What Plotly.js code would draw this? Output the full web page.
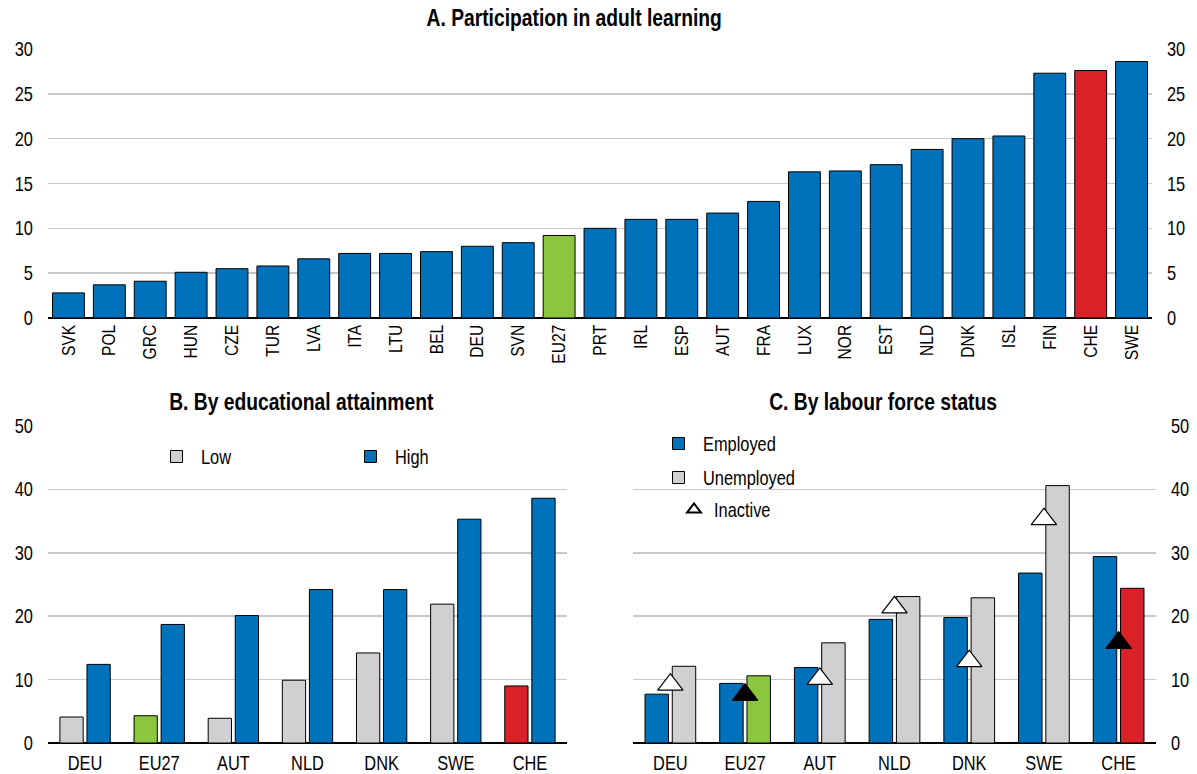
<!DOCTYPE html>
<html>
<head>
<meta charset="utf-8">
<script src="https://cdn.plot.ly/plotly-3.0.1.min.js"></script>
<style>body{margin:0;padding:0;background:#fff}#chart{width:1197px;height:774px}</style>
</head>
<body>
<div id="chart"></div>
<script>
// ---------- DATA ----------
const countriesA = ["SVK","POL","GRC","HUN","CZE","TUR","LVA","ITA","LTU","BEL","DEU","SVN","EU27","PRT","IRL","ESP","AUT","FRA","LUX","NOR","EST","NLD","DNK","ISL","FIN","CHE","SWE"];
const participation = [2.8,3.7,4.1,5.1,5.5,5.8,6.6,7.2,7.2,7.4,8.0,8.4,9.2,10.0,11.0,11.0,11.7,13.0,16.3,16.4,17.1,18.8,20.0,20.3,27.3,27.6,28.6];

const countriesBC = ["DEU","EU27","AUT","NLD","DNK","SWE","CHE"];
const eduLow  = [4.1,4.3,3.9,9.9,14.2,21.9,9.0];
const eduHigh = [12.4,18.7,20.1,24.2,24.2,35.3,38.6];

const employed   = [7.7,9.4,11.9,19.5,19.8,26.8,29.4];
const unemployed = [12.1,10.6,15.8,23.1,22.9,40.6,24.4];
const inactive   = [9.2,7.6,10.1,21.4,12.9,35.3,15.8];

const titleA = "A. Participation in adult learning";
const titleB = "B. By educational attainment";
const titleC = "C. By labour force status";

// ---------- STYLE ----------
const BLUE = "#0072BC", GRAY = "#D0CFD1", GREEN = "#8CC63F", RED = "#DA2128";
const FONT = "'Liberation Sans', Arial, sans-serif";
const NARROW = 0.82;
const W = 1197, H = 774;
const px = v => v / W, py = v => 1 - v / H;

function hiColor(c, base) { return c === "EU27" ? GREEN : (c === "CHE" ? RED : base); }
const line = {color: "#000", width: 1};

const traces = [
  {type: "bar", x: countriesA, y: participation, xaxis: "x", yaxis: "y", width: 0.78,
   marker: {color: countriesA.map(c => hiColor(c, BLUE)), line: line}, showlegend: false, hoverinfo: "x+y"},
  {type: "scatter", mode: "markers", x: countriesA, y: participation, xaxis: "x", yaxis: "y4",
   marker: {opacity: 0}, showlegend: false, hoverinfo: "skip"},

  {type: "bar", name: "Low", x: countriesBC, y: eduLow, xaxis: "x2", yaxis: "y2",
   marker: {color: countriesBC.map(c => hiColor(c, GRAY)), line: line}, legend: "legend"},
  {type: "bar", name: "High", x: countriesBC, y: eduHigh, xaxis: "x2", yaxis: "y2",
   marker: {color: BLUE, line: line}, legend: "legend"},

  {type: "bar", name: "Employed", x: countriesBC, y: employed, xaxis: "x3", yaxis: "y3",
   marker: {color: BLUE, line: line}, legend: "legend2", legendgroup: "e"},
  {type: "bar", name: "Unemployed", x: countriesBC, y: unemployed, xaxis: "x3", yaxis: "y3",
   marker: {color: countriesBC.map(c => hiColor(c, GRAY)), line: line}, legend: "legend2", legendgroup: "u"},
  {type: "scatter", mode: "markers", name: "Inactive", x: countriesBC, y: inactive, xaxis: "x3", yaxis: "y3",
   marker: {symbol: "triangle-up", size: 22,
            color: countriesBC.map(c => (c === "EU27" || c === "CHE") ? "#000" : "#fff"),
            line: {color: "#000", width: 1.2}},
   legend: "legend3"}
];

const grid = {showgrid: true, gridcolor: "#C8C8C8", gridwidth: 1.6, zeroline: true, zerolinecolor: "#000", zerolinewidth: 2,
              ticks: "", showline: false, tickfont: {family: FONT, size: 20, color: "#000"}, ticklabelstandoff: 14, fixedrange: true};
const xcat = {type: "category", showgrid: false, zeroline: false, showline: false, ticks: "",
              tickfont: {family: FONT, size: 20, color: "#000"}, fixedrange: true};

const layout = {
  width: W, height: H,
  margin: {l: 0, r: 0, t: 0, b: 0},
  paper_bgcolor: "#fff", plot_bgcolor: "rgba(0,0,0,0)",
  barmode: "group", bargap: 0.27, bargroupgap: 0.14,
  font: {family: FONT, size: 20, color: "#000"},
  xaxis:  Object.assign({}, xcat, {domain: [px(48), px(1152)], anchor: "y", tickangle: -90, ticklabelstandoff: 2,
            range: [-0.5, countriesA.length - 0.5], tickfont: {family: FONT, size: 19, color: "#000"}}),
  yaxis:  Object.assign({}, grid, {domain: [py(318), py(49)], anchor: "x", range: [0, 30], dtick: 5, side: "left"}),
  yaxis4: Object.assign({}, grid, {domain: [py(318), py(49)], anchor: "x", overlaying: "y", range: [0, 30], dtick: 5, side: "right", showgrid: false, zeroline: false}),
  xaxis2: Object.assign({}, xcat, {domain: [px(48), px(567)], anchor: "y2", ticklabelstandoff: 6, range: [-0.5, countriesBC.length - 0.5]}),
  yaxis2: Object.assign({}, grid, {domain: [py(743), py(426)], anchor: "x2", range: [0, 50], dtick: 10, side: "left"}),
  xaxis3: Object.assign({}, xcat, {domain: [px(633), px(1156)], anchor: "y3", ticklabelstandoff: 6, range: [-0.5, countriesBC.length - 0.5]}),
  yaxis3: Object.assign({}, grid, {domain: [py(743), py(426)], anchor: "x3", range: [0, 50], dtick: 10, side: "right"}),
  legend:  {orientation: "h", x: px(152), y: py(437), xanchor: "left", yanchor: "top", itemwidth: 39,
            entrywidth: 140, entrywidthmode: "pixels", bgcolor: "rgba(0,0,0,0)", font: {family: FONT, size: 20}, traceorder: "normal"},
  legend2: {orientation: "v", x: px(654), y: py(424), xanchor: "left", yanchor: "top", tracegroupgap: 5, itemwidth: 39,
            bgcolor: "rgba(0,0,0,0)", font: {family: FONT, size: 20}, traceorder: "grouped"},
  legend3: {orientation: "v", x: px(674), y: py(490), xanchor: "left", yanchor: "top", itemsizing: "constant",
            bgcolor: "rgba(0,0,0,0)", font: {family: FONT, size: 20}},
  annotations: [
    {text: "<b>" + titleA + "</b>", x: px(574), y: py(18), xref: "paper", yref: "paper", showarrow: false, xanchor: "center", yanchor: "middle", font: {family: FONT, size: 23.5, color: "#000"}},
    {text: "<b>" + titleB + "</b>", x: px(301), y: py(402), xref: "paper", yref: "paper", showarrow: false, xanchor: "center", yanchor: "middle", font: {family: FONT, size: 23.5, color: "#000"}},
    {text: "<b>" + titleC + "</b>", x: px(883), y: py(402), xref: "paper", yref: "paper", showarrow: false, xanchor: "center", yanchor: "middle", font: {family: FONT, size: 23.5, color: "#000"}}
  ]
};

// Condense text horizontally (emulates an Arial Narrow look; text stays real text)
function condense(gd, s) {
  gd.querySelectorAll("svg text").forEach(t => {
    const x = parseFloat(t.getAttribute("x")) || 0;
    const y = parseFloat(t.getAttribute("y")) || 0;
    const tr = t.getAttribute("transform") || "";
    t.setAttribute("transform", (tr + " translate(" + x + "," + y + ") scale(" + s + ",1) translate(" + (-x) + "," + (-y) + ")").trim());
  });
}

const gd = document.getElementById("chart");
Plotly.newPlot(gd, traces, layout, {staticPlot: true, displayModeBar: false}).then(() => condense(gd, NARROW));
</script>
</body>
</html>
